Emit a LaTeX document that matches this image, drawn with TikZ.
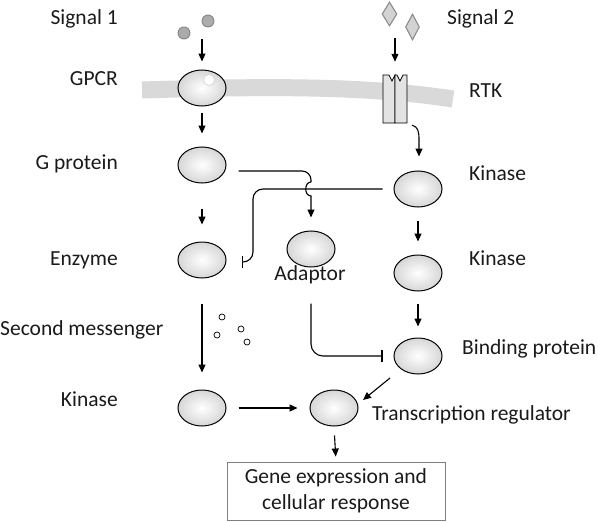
\documentclass[tikz,border=0pt]{standalone}
\usepackage{fontspec}
\setmainfont{Carlito}
\usetikzlibrary{arrows.meta,shapes.geometric,calc}
\definecolor{membr}{HTML}{D9D9D9}
\definecolor{dotfill}{HTML}{ABABAB}
\definecolor{dotedge}{HTML}{858585}
\definecolor{diafill}{HTML}{D3D3D3}
\definecolor{diaedge}{HTML}{8C8C8C}
\definecolor{boxedge}{HTML}{7F7F7F}
\definecolor{txt}{HTML}{1A1A1A}
\tikzset{
  lbl/.style={font=\fontsize{21.5}{26}\selectfont, text=txt, inner sep=0pt, text height=0.62em, text depth=0pt, yshift=-4pt},
  ell/.style={ellipse, draw=black, line width=1pt, minimum width=48pt, minimum height=36pt, inner sep=0pt,
    shading=radial, inner color=white, outer color=gray!32},
  arr/.style={line width=1.1pt, -{Triangle[length=8pt,width=7pt]}},
  inh/.style={line width=1.1pt, -{Bar[width=12pt,line width=1.1pt]}},
  plain/.style={line width=1.1pt},
}
\begin{document}
\begin{tikzpicture}[x=1pt,y=-1pt]
\useasboundingbox (0,0) rectangle (598,522);
% membrane
\draw[membr, line width=17pt] (142,90) .. controls (300,85) and (380,88) .. (453,99);
% signal 1 molecules
\node[circle, draw=dotedge, fill=dotfill, line width=0.9pt, minimum size=12pt, inner sep=0pt] (m1) at (184,33) {};
\node[circle, draw=dotedge, fill=dotfill, line width=0.9pt, minimum size=12pt, inner sep=0pt] (m2) at (208,21) {};
\coordinate (s1) at (202,39);
% signal 2 molecules
\node[diamond, draw=diaedge, fill=diafill, line width=1.1pt, minimum width=15pt, minimum height=24pt, inner sep=0pt] (d1) at (389.5,14) {};
\node[diamond, draw=diaedge, fill=diafill, line width=1.1pt, minimum width=14pt, minimum height=26pt, inner sep=0pt] (d2) at (412.5,27) {};
\coordinate (s2) at (395,38);
% GPCR
\node[ell] (gpcr) at (202,88) {};
\node[circle, draw=gray!35, fill=white, line width=0.6pt, minimum size=11pt, inner sep=0pt] (hl) at (209,80) {};
% RTK
\node[minimum width=24pt, minimum height=48pt, inner sep=0pt] (rtk) at (395,99) {};
\draw[fill=gray!22, line width=0.7pt] (383,123) -- (383,75) -- (389,75) -- (392,81) -- (395,75) -- (395,123) -- cycle;
\draw[fill=gray!22, line width=0.7pt] (395,123) -- (395,75) -- (397,75) -- (400,81) -- (403,75) -- (407,75) -- (407,123) -- cycle;
% nodes
\node[ell] (gprot) at (202,165) {};
\node[ell] (enz) at (202,260) {};
\node[ell] (kinl) at (202,408) {};
\node[ell] (adapt) at (311,249) {};
\node[ell] (kin1) at (418,189) {};
\node[ell] (kin2) at (418,273) {};
\node[ell] (bind) at (418,356) {};
\node[ell] (tr) at (334,408) {};
\node[draw=boxedge, line width=0.9pt, minimum width=218pt, minimum height=58pt, inner sep=0pt,
      align=center, font=\fontsize{21.5}{26}\selectfont, text=txt] (gene) at (336,491)
      {Gene expression and\\cellular response};
% second messenger
\foreach \p/\n in {(222,317)/a,(217,335)/b,(241,329)/c,(247,342)/d}
  \node[circle, draw=black, fill=white, line width=0.7pt, minimum size=6pt, inner sep=0pt] (sm\n) at \p {};
% labels left
\node[lbl, anchor=east] (lsig1) at (118,17.5) {Signal 1};
\node[lbl, anchor=east] (lgpcr) at (118,78) {GPCR};
\node[lbl, anchor=east] (lgprot) at (118,162) {G protein};
\node[lbl, anchor=east] (lenz) at (118,258) {Enzyme};
\node[lbl, anchor=west] (lsec) at (0,328) {Second messenger};
\node[lbl, anchor=east] (lkinl) at (118,399) {Kinase};
% labels right
\node[lbl, anchor=west] (lsig2) at (447,17.5) {Signal 2};
\node[lbl, anchor=west] (lrtk) at (469,90) {RTK};
\node[lbl, anchor=west] (lkin1) at (469,173) {Kinase};
\node[lbl, anchor=west] (lkin2) at (469,258) {Kinase};
\node[lbl, anchor=west] (lbind) at (462,347) {Binding protein};
\node[lbl, anchor=west] (ltr) at (372,413) {Transcription regulator};
\node[lbl] (ladapt) at (310,273.5) {Adaptor};
% arrows
\draw[arr, shorten >=8pt] (s1) -- (gpcr.north);
\draw[arr, shorten >=13pt] (s2) -- (rtk.north);
\draw[arr, shorten <=6pt, shorten >=13pt] (gpcr.south) -- (gprot.north);
\draw[arr, shorten <=25pt, shorten >=17pt] (gprot.south) -- (enz.north);
\draw[arr, shorten <=25pt, shorten >=17pt] (enz.south) -- (kinl.north);
\draw[arr, shorten <=12pt, shorten >=12pt] (kinl.east) -- (tr.west);
\draw[arr, shorten <=13pt, shorten >=13pt] (kin1.south) -- (kin2.north);
\draw[arr, shorten <=12pt, shorten >=11pt] (kin2.south) -- (bind.north);
\draw[arr, shorten <=9pt, shorten >=5pt] (tr.south) -- (gene.north);
\coordinate (b1) at (390,378);
\coordinate (b2) at (363,400);
\draw[arr] (b1) -- (b2);
% RTK to kinase
\draw[arr, shorten >=14pt] ([shift={(5,2)}]rtk.south east) .. controls (418,127) and (419,131) .. (419,140) -- (kin1.north -| 419,0);
% kinase inhibits enzyme
\draw[inh, rounded corners=10pt] ([shift={(-11,0)}]kin1.west) -| (253,262) -- ([shift={(15,2)}]enz.east);
% G protein to adaptor with hop
\coordinate (ga) at ([shift={(12,6)}]gprot.east);
\draw[plain, rounded corners=9pt] (ga) -- (ga -| adapt) -- (311,182);
\draw[arr, shorten >=13pt] (311,182) .. controls (304,182) and (304,196) .. (311,196) -- (adapt.north);
% adaptor inhibits binding protein
\draw[inh, rounded corners=12pt] ([shift={(0,36)}]adapt.south) |- ([shift={(-11,0)}]bind.west);
\end{tikzpicture}
\end{document}
